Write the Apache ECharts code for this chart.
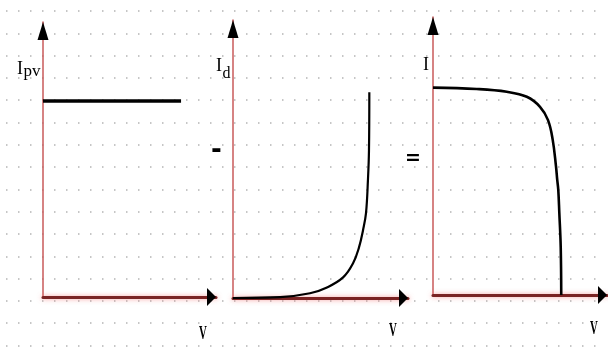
<!DOCTYPE html>
<html>
<head>
<meta charset="utf-8">
<script src="https://cdn.jsdelivr.net/npm/echarts@6/dist/echarts.min.js"></script>
<style>html,body{margin:0;padding:0;background:#fff;}#c{width:608px;height:354px;}</style>
</head>
<body>
<div id="c"></div>
<script>
// Panel 1: photovoltaic current Ipv (constant)
const ipvX = [0, 79.8];
const ipvY = [71.3, 71.3];
// Panel 2: diode current Id (exponential)
const idX = [0, 26.9, 44, 53.7, 62.9, 68.6, 72, 74.3, 76, 77.1, 77.7, 77.9];
const idY = [0, 0.3, 1.7, 3.8, 7.4, 12.5, 18.2, 24.4, 30.5, 42.3, 53.1, 74];
// Panel 3: resulting I-V curve
const ivX = [0, 25.1, 42.4, 53.9, 61.5, 66.1, 68.8, 70.7, 71.4, 72, 72.6, 73.4, 73.7];
const ivY = [74.6, 74.1, 73.1, 71.3, 67.7, 62.9, 55.8, 46.2, 41.4, 37.8, 29.5, 17.3, 0];

const zip = (xs, ys) => xs.map((x, i) => [x, ys[i]]);

const chart = echarts.init(document.getElementById('c'), null, {renderer: 'canvas'});

const panels = [
  {left: 43, top: 22, width: 173, height: 275},
  {left: 233, top: 20, width: 175, height: 278},
  {left: 433, top: 17, width: 174, height: 278}
];

const grids = [{left: 6, top: 11, width: 600, height: 334.5}].concat(panels.map(p => Object.assign({}, p)));

const xAxes = [{gridIndex: 0, type: 'value', min: 0, max: 600, show: true,
  axisLine: {show: false}, axisTick: {show: false}, axisLabel: {show: false}, splitLine: {show: false}}];
const yAxes = [{gridIndex: 0, type: 'value', min: 0, max: 334.5, interval: 22.3,
  axisLine: {show: false}, axisTick: {show: false}, axisLabel: {show: false},
  splitLine: {show: true, lineStyle: {color: '#b4b4b4', width: 1.5, type: [1.5, 10.5]}}}];

panels.forEach((p, i) => {
  xAxes.push({gridIndex: i + 1, type: 'value', min: 0, max: 100,
    axisLine: {show: true, onZero: false, lineStyle: {color: '#7a2323', width: 3,
      shadowColor: 'rgba(240,110,110,0.7)', shadowBlur: 5}},
    axisTick: {show: false}, axisLabel: {show: false}, splitLine: {show: false}});
  yAxes.push({gridIndex: i + 1, type: 'value', min: 0, max: 100,
    axisLine: {show: true, onZero: false, lineStyle: {color: '#c85a5a', width: 1.5}},
    axisTick: {show: false}, axisLabel: {show: false}, splitLine: {show: false}});
});

function arrows() {
  return {
    silent: true,
    label: {show: false},
    itemStyle: {color: '#000'},
    data: [
      {coord: [0, 100], symbol: 'triangle', symbolSize: [11, 18], symbolOffset: [0, 9]},
      {coord: [100, 0], symbol: 'triangle', symbolSize: [18, 9], symbolRotate: -90, symbolOffset: [-4.5, 0]}
    ]
  };
}

const curves = [zip(ipvX, ipvY), zip(idX, idY), zip(ivX, ivY)];
const widths = [3.5, 2.2, 2.6];
const series = curves.map((d, i) => ({
  type: 'line', xAxisIndex: i + 1, yAxisIndex: i + 1, data: d,
  showSymbol: false, smooth: i === 0 ? false : 0.4, silent: true,
  lineStyle: {color: '#000', width: widths[i]},
  markPoint: arrows(), z: 5
}));

const serif = 'Liberation Serif';
const txt = (x, y, s, size, extra, sx) => ({type: 'text', x: x, y: y, z: 10, scaleX: sx || 1,
  style: Object.assign({text: s, fontFamily: serif, fontSize: size, fill: '#000', verticalAlign: 'alphabetic'}, extra || {})});

chart.setOption({
  animation: false,
  grid: grids,
  xAxis: xAxes,
  yAxis: yAxes,
  series: series,
  graphic: [
    txt(17, 60, 'I', 18),
    txt(23.5, 63, 'pv', 17),
    txt(216, 57, 'I', 18),
    txt(222.5, 66, 'd', 16),
    txt(423, 56, 'I', 18),
    txt(199, 325, 'V', 18, {fontWeight: 'bold'}, 0.6),
    txt(389, 322, 'V', 18, {fontWeight: 'bold'}, 0.6),
    txt(590, 320, 'V', 18, {fontWeight: 'bold'}, 0.6),
    {type: 'text', x: 211, y: 151, z: 10, style: {text: '-', fontFamily: 'DejaVu Sans', fontWeight: 'bold', fontSize: 26, fill: '#000', verticalAlign: 'middle'}},
    {type: 'text', x: 405, y: 159, z: 10, style: {text: '=', fontFamily: 'DejaVu Sans', fontWeight: 'bold', fontSize: 19, fill: '#000', verticalAlign: 'middle'}}
  ]
});
</script>
</body>
</html>
